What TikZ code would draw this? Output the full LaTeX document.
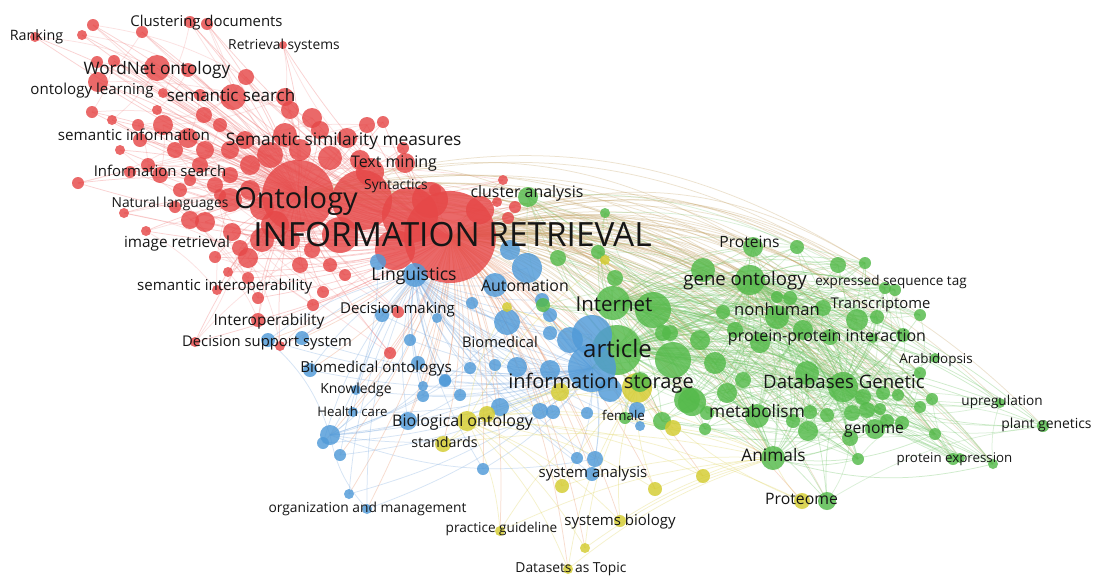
\documentclass[tikz,border=0pt]{standalone}
\usepackage{fontspec}
\setmainfont{Open Sans}
\pgfdeclarelayer{bg}
\pgfdeclarelayer{edges}
\pgfsetlayers{bg,edges,main}
\definecolor{vred}{RGB}{230,72,72}
\definecolor{vgreen}{RGB}{84,186,74}
\definecolor{vblue}{RGB}{80,154,216}
\definecolor{vyellow}{RGB}{212,204,48}
\definecolor{ered}{RGB}{240,120,120}
\definecolor{egreen}{RGB}{110,196,100}
\definecolor{eblue}{RGB}{130,175,225}
\definecolor{etan}{RGB}{200,168,110}
\definecolor{eorange}{RGB}{232,150,110}
\definecolor{eyellow}{RGB}{225,214,100}
\definecolor{lbl}{RGB}{22,22,22}
\tikzset{
  dot/.style={circle, inner sep=0pt, draw=none, fill opacity=0.82},
  rdot/.style={dot, fill=vred},
  gdot/.style={dot, fill=vgreen},
  bdot/.style={dot, fill=vblue},
  ydot/.style={dot, fill=vyellow},
  lab/.style={anchor=base, inner sep=0pt, text=lbl, font=\fontsize{#1}{#1}\selectfont},
  lnk/.style={line width=0.75pt, draw opacity=0.33},
}
\begin{document}
\begin{tikzpicture}[x=1pt,y=-1pt]
\begin{pgfonlayer}{bg}
\fill[white] (0,0) rectangle (1095,576);
\end{pgfonlayer}
\useasboundingbox (0,0) rectangle (1095,576);
% hubs
\node[rdot, minimum size=72pt] (ONT) at (298,196) {};
\node[rdot, minimum size=92pt] (IR) at (450,237) {};
\node[gdot, minimum size=50pt] (ART) at (617,350) {};
\node[gdot, minimum size=34pt] (INET) at (613,303) {};
\node[gdot, minimum size=30pt] (GO) at (750,280) {};
\node[gdot, minimum size=30pt] (DBG) at (843,387) {};
\node[gdot, minimum size=24pt] (NONH) at (777,317) {};
\node[gdot, minimum size=24pt] (META) at (757,416) {};
\node[gdot, minimum size=24pt] (ANIM) at (773,458) {};
\node[bdot, minimum size=48pt] (INFS) at (592,368) {};
\node[bdot, minimum size=24pt] (LING) at (415,275) {};
\node[bdot, minimum size=20pt] (HC) at (330,435) {};
\node[ydot, minimum size=20pt] (BIOO) at (467,421) {};
\node[ydot, minimum size=30pt] (YB) at (637,388) {};
% red nodes
\foreach \x/\y/\r [count=\i] in {
362/200/30, 410/215/28, 395/250/20, 340/235/18, 370/172/14, 430/200/18, 480/210/14,
35/37/5, 82/35/5, 93/25/6, 142/32/6, 190/22/6, 207/24/6, 283/45/4,
97/62/6, 114/61/6, 157/68/13, 188/70/7, 246/77/8,
98/82/10, 163/93/5, 233/97/13, 285/97/9, 200/95/6,
92/112/6, 112/120/5, 157/110/5, 204/115/8, 290/110/9, 312/118/10,
138/125/6, 163/125/10, 188/138/10, 220/125/7, 140/140/7, 230/150/9, 245/140/9, 250/165/10,
130/172/6, 148/165/7, 160/175/8, 78/183/6, 190/180/6, 200/165/8,
347/138/10, 367/125/8, 383/122/6, 270/155/13, 300/150/11, 330/158/12, 360/160/10, 405/163/10, 403/148/6, 435/190/6,
124/213/5, 146/231/5, 175/207/6, 190/220/9, 205/222/10, 220/195/6, 215/257/6, 228/272/5, 240/248/8, 248/258/10, 217/290/5, 258/298/6, 248/278/6, 300/265/8, 323/292/6, 313/305/6, 258/320/7, 195/342/5, 280/346/5,
230/200/12, 215/185/8, 180/190/7, 262/208/12, 262/240/12, 232/232/9, 290/240/10, 312/250/8,
497/202/5, 515/207/6, 508/218/6, 503/180/5, 398/312/6, 390/353/6, 345/275/6, 330/265/7,
285/135/12, 320/130/9, 250/190/10, 275/225/14, 230/175/8, 205/150/9, 175/150/8, 120/150/5}
  {\node[rdot, minimum size={2pt*\r}] (r\i) at (\x,\y) {}; \xdef\nr{\i}}
% blue nodes
\foreach \x/\y/\r [count=\i] in {
378/262/8, 472/303/6, 382/315/7, 437/318/5, 410/340/6, 418/363/7, 445/380/6, 517/367/10, 507/322/13, 527/268/15, 510/250/10, 495/285/12, 542/300/7, 550/315/7, 550/333/7, 570/340/13, 592/335/20, 610/390/12, 550/370/10, 495/365/6,
268/340/7, 302/338/7, 310/370/7, 356/390/5, 353/412/5, 323/443/6, 340/455/6, 349/494/5, 367/509/5,
408/421/9, 500/407/9, 540/411/8, 553/412/7, 587/413/6, 640/426/5, 637/410/8, 423/386/5, 423/396/6, 445/381/6,
577/458/6, 595/459/8, 592/474/7, 483/469/6, 470/368/6, 460/395/6}
  {\node[bdot, minimum size={2pt*\r}] (b\i) at (\x,\y) {}; \xdef\nb{\i}}
% green nodes
\foreach \x/\y/\r [count=\i] in {
528/197/10, 605/213/5, 558/258/8, 598/252/7, 615/278/8, 543/305/7, 653/310/18, 673/360/18, 670/333/8, 715/363/11, 723/312/7, 703/270/12,
753/247/10, 797/247/7, 838/265/8, 865/263/6, 777/297/6, 790/298/7, 823/308/8, 857/320/11, 877/317/7, 885/288/6, 895/290/6, 920/315/6,
803/330/10, 830/337/8, 873/338/5, 903/335/7, 663/333/8, 687/400/13, 727/393/10, 743/380/8, 807/373/12, 863/397/8, 883/393/7, 898/395/6,
920/373/6, 920/407/6, 867/410/8, 810/412/7, 827/415/7, 707/413/7, 793/421/7, 808/431/10, 852/413/8, 850/438/8, 875/429/10, 880/409/6,
887/421/7, 902/423/7, 932/399/6, 935/434/6, 1000/403/5, 1043/426/6, 858/459/6, 953/459/6, 960/458/5, 993/464/5, 827/501/9, 705/429/6,
662/421/9, 625/418/6, 935/358/5, 692/402/14, 640/382/10, 760/343/10, 700/340/10, 735/330/8}
  {\node[gdot, minimum size={2pt*\r}] (g\i) at (\x,\y) {}; \xdef\ng{\i}}
% yellow nodes
\foreach \x/\y/\r [count=\i] in {
605/260/5, 507/307/5, 487/414/8, 443/444/8, 560/392/9, 673/428/8, 562/486/7, 655/489/7, 703/476/7, 620/521/6, 500/531/5, 585/548/5, 568/569/5, 802/501/8}
  {\node[ydot, minimum size={2pt*\r}] (y\i) at (\x,\y) {}; \xdef\ny{\i}}
% edges
\begin{pgfonlayer}{edges}
\foreach \i in {1,...,\nr} {
  \draw[lnk, ered] (IR.center) to[bend left=8] (r\i.center);
  \draw[lnk, ered] (ONT.center) to[bend right=10] (r\i.center);
}
\pgfmathtruncatemacro\nrm{\nr-9}
\foreach \i in {1,...,\nrm} {
  \pgfmathtruncatemacro\j{\i+9}
  \draw[lnk, ered, draw opacity=0.22] (r\i.center) to[bend left=10] (r\j.center);
}
\foreach \i in {1,...,\ng} {
  \draw[lnk, etan] (IR.center) to[bend left=28] (g\i.center);
  \draw[lnk, egreen] (ART.center) to[bend left=12] (g\i.center);
  \draw[lnk, egreen] (GO.center) to[bend left=14] (g\i.center);
  \draw[lnk, egreen] (DBG.center) to[bend right=12] (g\i.center);
  \draw[lnk, egreen] (INET.center) to[bend left=18] (g\i.center);
}
\pgfmathtruncatemacro\ngm{\ng-13}
\foreach \i in {1,...,\ngm} {
  \pgfmathtruncatemacro\j{\i+13}
  \pgfmathtruncatemacro\k{\i+5}
  \draw[lnk, egreen, draw opacity=0.25] (g\i.center) to[bend left=15] (g\j.center);
  \draw[lnk, egreen, draw opacity=0.25] (g\i.center) to[bend right=12] (g\k.center);
}
\foreach \i in {1,4,...,\ng} {
  \draw[lnk, etan] (ONT.center) to[bend left=25] (g\i.center);
  \draw[lnk, egreen] (META.center) to[bend left=15] (g\i.center);
  \draw[lnk, egreen] (ANIM.center) to[bend right=15] (g\i.center);
  \draw[lnk, egreen] (NONH.center) to[bend left=15] (g\i.center);
}
\foreach \i in {1,...,\nb} {
  \draw[lnk, eorange] (IR.center) to[bend left=10] (b\i.center);
  \draw[lnk, eblue] (INFS.center) to[bend left=12] (b\i.center);
  \draw[lnk, eblue] (LING.center) to[bend right=12] (b\i.center);
}
\foreach \i in {1,5,...,\nb} {
  \draw[lnk, eblue] (HC.center) to[bend right=15] (b\i.center);
}
\foreach \i in {1,...,\ny} {
  \draw[lnk, eyellow] (BIOO.center) to[bend left=12] (y\i.center);
  \draw[lnk, eyellow] (YB.center) to[bend right=12] (y\i.center);
  \draw[lnk, eyellow] (ANIM.center) to[bend right=10] (y\i.center);
  \draw[lnk, eorange] (IR.center) to[bend left=12] (y\i.center);
}
\foreach \h in {ART,GO,DBG,META,NONH,ANIM} {
  \draw[lnk, egreen] (INFS.center) to[bend left=15] (\h.center);
  \draw[lnk, etan] (IR.center) to[bend left=28] (\h.center);
  \draw[lnk, etan] (ONT.center) to[bend left=25] (\h.center);
}
\foreach \h in {ART,DBG,META,NONH,ANIM,INET} {
  \draw[lnk, egreen] (GO.center) to[bend left=15] (\h.center);
}
\draw[lnk, eblue] (HC.center) to[bend right=10] (INFS.center);
\draw[lnk, eyellow] (BIOO.center) to[bend right=10] (ART.center);
\draw[lnk, ered] (IR.center) to[bend left=8] (ONT.center);
\end{pgfonlayer}
% labels
\foreach \t/\x/\y/\s [count=\i] in {
{Clustering documents}/206.5/26.7/14.9, {Ranking}/36.5/40.7/14.3, {Retrieval systems}/284/49.3/13.8,
{WordNet ontology}/157/74/17.2, {ontology learning}/92/94/15.1, {semantic search}/231/101.7/17,
{semantic information}/134/140/15.2, {Semantic similarity measures}/343.7/145/17.3,
{Information search}/160/176.7/14.9, {Text mining}/394/167.3/16, {Syntactics}/396/189.3/13.8,
{Ontology}/296/208.3/29, {Natural languages}/170/207.3/13.8, {cluster analysis}/527/197.3/15.9,
{INFORMATION RETRIEVAL}/452.5/246.7/33.4, {image retrieval}/177/247.3/15.3, {Proteins}/749.5/247.3/15.6,
{Linguistics}/414/280.7/17.6, {semantic interoperability}/224.7/290/15.1, {Automation}/525/291.7/15.9,
{gene ontology}/745/285/18.6, {expressed sequence tag}/891/285/13.5, {Internet}/614/311.7/20.5,
{Decision making}/397.5/313.3/15, {Transcriptome}/880.5/308.3/14.8, {nonhuman}/777/315/16.6,
{Interoperability}/269/325/15.5, {protein-protein interaction}/827/341.7/16,
{Decision support system}/267/346.7/14.8, {Biomedical}/500/347.3/14.7, {article}/617.5/357.3/24,
{Arabidopsis}/936/363.3/13.4, {Biomedical ontologys}/376/372/15.2, {information storage}/601/388.3/20,
{Databases Genetic}/844/388.3/18.6, {Knowledge}/356/393.3/13.9, {upregulation}/1002/405.3/13.6,
{Health care}/352.5/416.7/13.2, {metabolism}/757/417.7/17.3, {female}/623.5/420.3/13.4,
{Biological ontology}/462.5/426.7/16, {plant genetics}/1046.5/428.7/13.9, {genome}/874/433.3/15.7,
{standards}/444.5/447.7/14.3, {Animals}/773.5/461/17.3, {protein expression}/954.5/462.7/13.3,
{system analysis}/593/477.7/15, {Proteome}/801.5/504.3/15.8, {organization and management}/367.5/512.7/13.8,
{systems biology}/620/525/15, {practice guideline}/501.5/532.7/13.6, {Datasets as Topic}/571/572.7/13.8}
  {\node[lab=\s] (L\i) at (\x,\y) {\t};}
\end{tikzpicture}
\end{document}
